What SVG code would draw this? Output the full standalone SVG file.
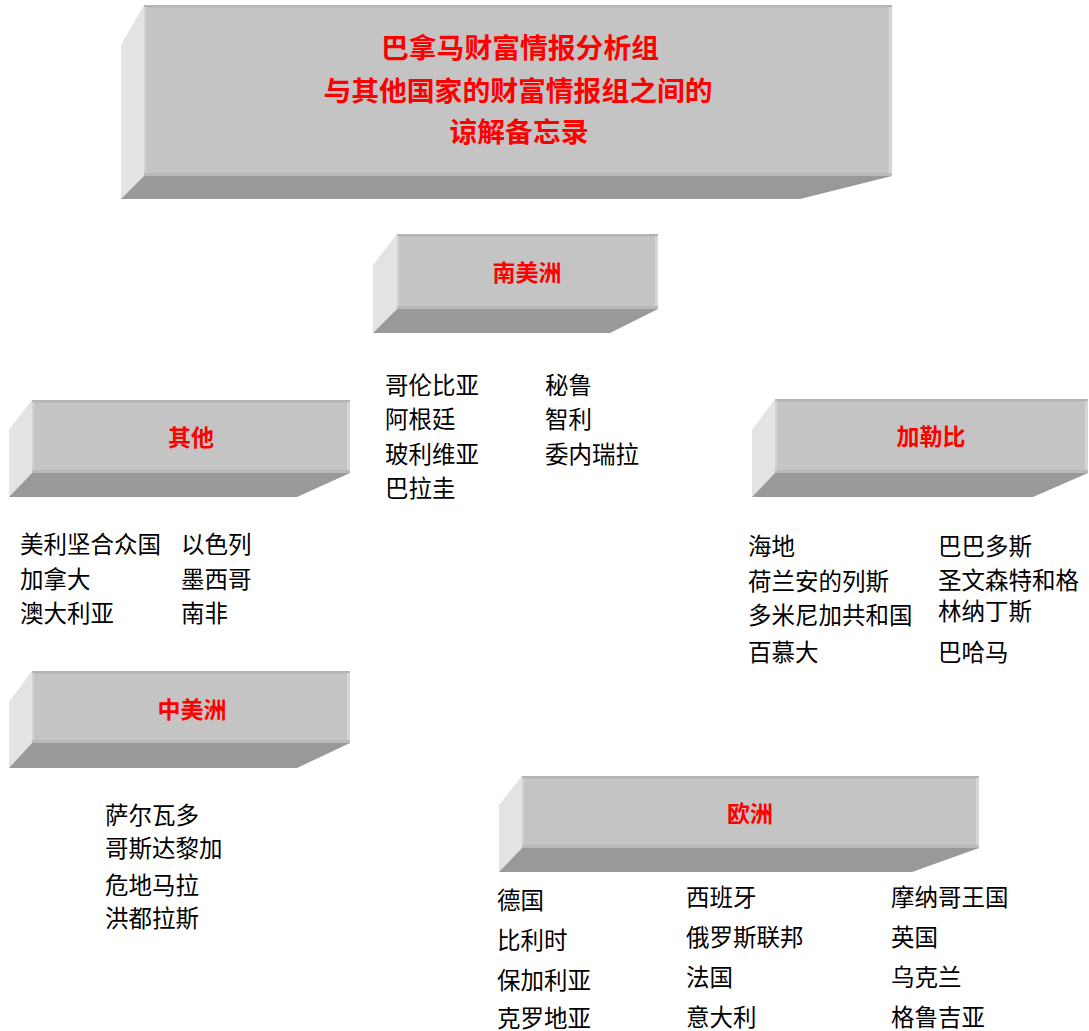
<svg xmlns="http://www.w3.org/2000/svg" width="1089" height="1031" viewBox="0 0 1089 1031">
<style>
.lf{fill:#e3e3e3}
.bt{fill:#999999}
.fr{fill:#c4c4c4}
.tp{fill:#b4b4b4}
.rs{fill:#d6d6d6}
.ls{fill:#d2d2d2}
.bb{fill:#b9b9b9}
.hd{font-family:"Noto Sans CJK SC",sans-serif;font-weight:bold;fill:#ff0000;text-anchor:middle}
.tx{font-family:"Noto Sans CJK SC",sans-serif;font-size:23.5px;fill:#000000}
</style>
<rect width="1089" height="1031" fill="#ffffff"/>
<g id="title">
<polygon class="lf" points="144,5 121,45 121,199 144,176"/>
<polygon class="bt" points="144,176 892,176 800,199 121,199"/>
<rect class="fr" x="144" y="5" width="748" height="171"/>
<rect class="tp" x="144" y="5" width="748" height="2.5"/>
<rect class="rs" x="888.5" y="7" width="3.5" height="169"/>
<rect class="ls" x="144" y="7" width="2" height="169"/>
<rect class="bb" x="144" y="173" width="748" height="3"/>
<text class="hd" font-size="27.8" x="520" y="58">巴拿马财富情报分析组</text>
<text class="hd" font-size="27.8" x="518" y="101">与其他国家的财富情报组之间的</text>
<text class="hd" font-size="27.8" x="519" y="142">谅解备忘录</text>
</g>
<g id="south-america">
<polygon class="lf" points="397,234 373,265 373,333 397,309"/>
<polygon class="bt" points="397,309 658,309 610,333 373,333"/>
<rect class="fr" x="397" y="234" width="261" height="75"/>
<rect class="tp" x="397" y="234" width="261" height="2.5"/>
<rect class="rs" x="655" y="236" width="3" height="73"/>
<rect class="ls" x="397" y="236" width="2" height="73"/>
<rect class="bb" x="397" y="306" width="261" height="3"/>
<text class="hd" font-size="23" x="527" y="281">南美洲</text>
<text class="tx" x="385" y="394">哥伦比亚</text>
<text class="tx" x="385" y="428">阿根廷</text>
<text class="tx" x="385" y="463">玻利维亚</text>
<text class="tx" x="385" y="497">巴拉圭</text>
<text class="tx" x="545" y="394">秘鲁</text>
<text class="tx" x="545" y="428">智利</text>
<text class="tx" x="545" y="463">委内瑞拉</text>
</g>
<g id="others">
<polygon class="lf" points="32,400 9,430 9,497 32,473"/>
<polygon class="bt" points="32,473 350,473 297,497 9,497"/>
<rect class="fr" x="32" y="400" width="318" height="73"/>
<rect class="tp" x="32" y="400" width="318" height="2.5"/>
<rect class="rs" x="347" y="402" width="3" height="71"/>
<rect class="ls" x="32" y="402" width="2" height="71"/>
<rect class="bb" x="32" y="470" width="318" height="3"/>
<text class="hd" font-size="23" x="191" y="446">其他</text>
<text class="tx" x="20" y="553">美利坚合众国</text>
<text class="tx" x="20" y="588">加拿大</text>
<text class="tx" x="20" y="622">澳大利亚</text>
<text class="tx" x="181" y="553">以色列</text>
<text class="tx" x="181" y="588">墨西哥</text>
<text class="tx" x="181" y="622">南非</text>
</g>
<g id="caribbean">
<polygon class="lf" points="775,399 752,430 752,497 775,473"/>
<polygon class="bt" points="775,473 1088,473 1033,497 752,497"/>
<rect class="fr" x="775" y="399" width="313" height="74"/>
<rect class="tp" x="775" y="399" width="313" height="2.5"/>
<rect class="rs" x="1085" y="401" width="3" height="72"/>
<rect class="ls" x="775" y="401" width="2" height="72"/>
<rect class="bb" x="775" y="470" width="313" height="3"/>
<text class="hd" font-size="23" x="931" y="445">加勒比</text>
<text class="tx" x="748" y="555">海地</text>
<text class="tx" x="748" y="590">荷兰安的列斯</text>
<text class="tx" x="748" y="624">多米尼加共和国</text>
<text class="tx" x="748" y="661">百慕大</text>
<text class="tx" x="938" y="555">巴巴多斯</text>
<text class="tx" x="938" y="589">圣文森特和格</text>
<text class="tx" x="938" y="620">林纳丁斯</text>
<text class="tx" x="938" y="661">巴哈马</text>
</g>
<g id="central-america">
<polygon class="lf" points="32,671 9,702 9,768 32,743"/>
<polygon class="bt" points="32,743 350,743 297,768 9,768"/>
<rect class="fr" x="32" y="671" width="318" height="72"/>
<rect class="tp" x="32" y="671" width="318" height="2.5"/>
<rect class="rs" x="347" y="673" width="3" height="70"/>
<rect class="ls" x="32" y="673" width="2" height="70"/>
<rect class="bb" x="32" y="740" width="318" height="3"/>
<text class="hd" font-size="23" x="192" y="718">中美洲</text>
<text class="tx" x="105" y="824">萨尔瓦多</text>
<text class="tx" x="105" y="857">哥斯达黎加</text>
<text class="tx" x="105" y="894">危地马拉</text>
<text class="tx" x="105" y="927">洪都拉斯</text>
</g>
<g id="europe">
<polygon class="lf" points="522,776 499,805 499,872 522,848"/>
<polygon class="bt" points="522,848 979,848 912,872 499,872"/>
<rect class="fr" x="522" y="776" width="457" height="72"/>
<rect class="tp" x="522" y="776" width="457" height="2.5"/>
<rect class="rs" x="976" y="778" width="3" height="70"/>
<rect class="ls" x="522" y="778" width="2" height="70"/>
<rect class="bb" x="522" y="845" width="457" height="3"/>
<text class="hd" font-size="23" x="750" y="822">欧洲</text>
<text class="tx" x="497" y="909">德国</text>
<text class="tx" x="497" y="949">比利时</text>
<text class="tx" x="497" y="989">保加利亚</text>
<text class="tx" x="497" y="1027">克罗地亚</text>
<text class="tx" x="686" y="906">西班牙</text>
<text class="tx" x="686" y="946">俄罗斯联邦</text>
<text class="tx" x="686" y="986">法国</text>
<text class="tx" x="686" y="1026">意大利</text>
<text class="tx" x="891" y="906">摩纳哥王国</text>
<text class="tx" x="891" y="946">英国</text>
<text class="tx" x="891" y="986">乌克兰</text>
<text class="tx" x="891" y="1026">格鲁吉亚</text>
</g>
<g id="connectors"></g>
</svg>
